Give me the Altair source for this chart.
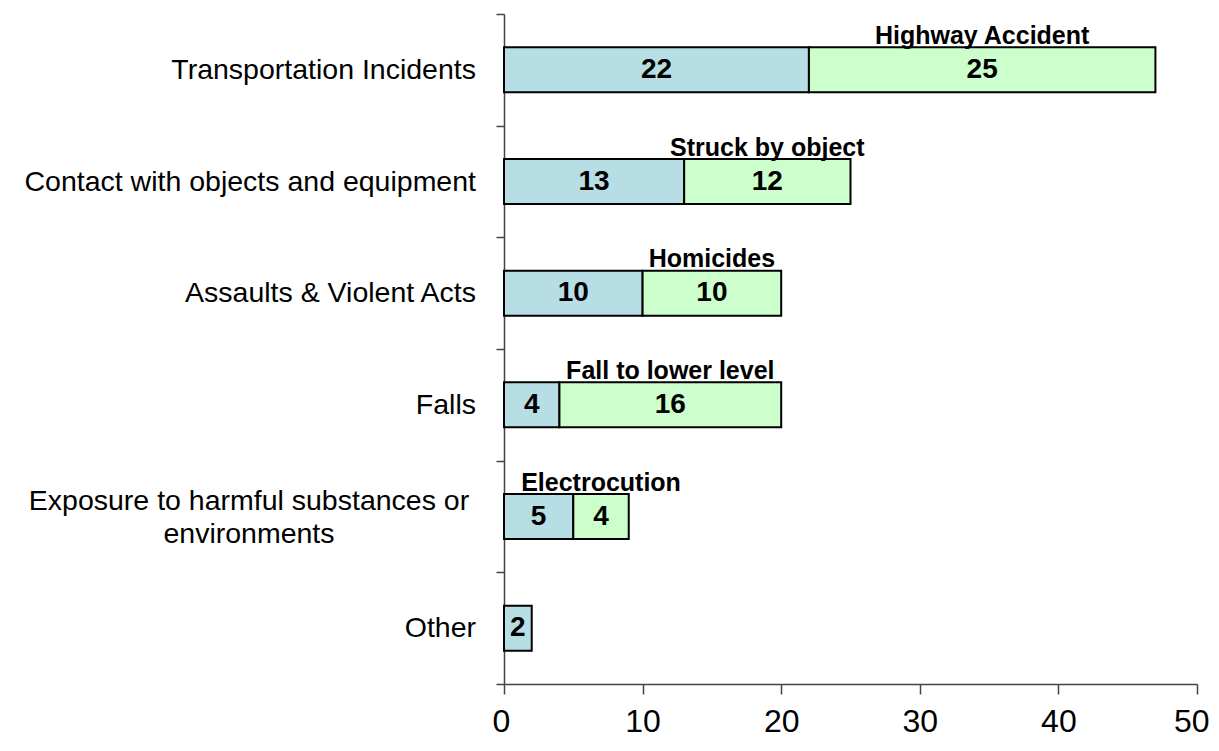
import altair as alt
import pandas as pd

categories = [
    "Transportation Incidents",
    "Contact with objects and equipment",
    "Assaults & Violent Acts",
    "Falls",
    "Exposure to harmful substances or\nenvironments",
    "Other",
]
base_values = [22, 13, 10, 4, 5, 2]
sub_values = [25, 12, 10, 16, 4, 0]
sub_labels = ["Highway Accident", "Struck by object", "Homicides",
              "Fall to lower level", "Electrocution", ""]
x_ticks = [0, 10, 20, 30, 40, 50]

FONT = "Liberation Sans"
BLUE = "#b7dee4"
GREEN = "#ccffcc"

rows = []
for c, b, s in zip(categories, base_values, sub_values):
    rows.append({"category": c, "segment": "base", "start": 0, "end": b, "value": b})
    if s > 0:
        rows.append({"category": c, "segment": "sub", "start": b, "end": b + s, "value": s})
bars_df = pd.DataFrame(rows)
bars_df["mid"] = (bars_df["start"] + bars_df["end"]) / 2

sub_df = pd.DataFrame({
    "category": categories,
    "label": sub_labels,
    "mid": [b + s / 2 for b, s in zip(base_values, sub_values)],
})
sub_df = sub_df[sub_df["label"] != ""]

cat_df = pd.DataFrame({"category": categories})
cat_df["multi"] = cat_df["category"].str.contains("\n")

yenc = alt.Y(
    "category:N",
    sort=categories,
    scale=alt.Scale(domain=categories, paddingInner=0, paddingOuter=0),
    axis=alt.Axis(labels=False, title=None, tickBand="extent", tickSize=8,
                  domainColor="#444444", tickColor="#444444", domainWidth=1.5,
                  tickWidth=1.5, grid=False),
)
xscale = alt.Scale(domain=[0, 50], nice=False, zero=True)

bars = alt.Chart(bars_df).mark_bar(size=45, stroke="black", strokeWidth=2).encode(
    x=alt.X("start:Q", scale=xscale,
            axis=alt.Axis(values=x_ticks, title=None, grid=False, tickSize=10,
                          labelFontSize=32, labelFont=FONT, labelColor="black",
                          labelPadding=12, domainColor="#444444", tickColor="#444444",
                          domainWidth=1.5, tickWidth=1.5, labelFlush=True,
                          labelFlushOffset=12)),
    x2="end:Q",
    y=yenc,
    color=alt.Color("segment:N", scale=alt.Scale(domain=["base", "sub"], range=[BLUE, GREEN]),
                    legend=None),
)

values_text = alt.Chart(bars_df).mark_text(
    font=FONT, fontSize=28, fontWeight="bold", color="black", baseline="middle", align="center"
).encode(x="mid:Q", y=alt.Y("category:N", sort=categories), text="value:Q")

sub_text = alt.Chart(sub_df).mark_text(
    font=FONT, fontSize=25, fontWeight="bold", color="black", baseline="alphabetic",
    align="center", dy=-26
).encode(x="mid:Q", y=alt.Y("category:N", sort=categories), text="label:N")

cat_single = alt.Chart(cat_df).transform_filter("!datum.multi").mark_text(
    font=FONT, fontSize=28.5, color="black", baseline="middle", align="right"
).encode(x=alt.value(-28), y=alt.Y("category:N", sort=categories), text="category:N")

cat_multi = alt.Chart(cat_df).transform_filter("datum.multi").mark_text(
    font=FONT, fontSize=28.5, color="black", baseline="middle", align="center",
    lineBreak="\n", lineHeight=33, dy=-16
).encode(x=alt.value(-255), y=alt.Y("category:N", sort=categories), text="category:N")

chart = alt.layer(bars, values_text, sub_text, cat_single, cat_multi).properties(
    width=693, height=670,
    autosize=alt.AutoSizeParams(type="none"),
    padding={"left": 496, "top": 6, "right": 14, "bottom": 54},
    background="white",
).configure_view(stroke=None)

chart.save("out.html", embed_options={"renderer": "svg", "actions": False})
